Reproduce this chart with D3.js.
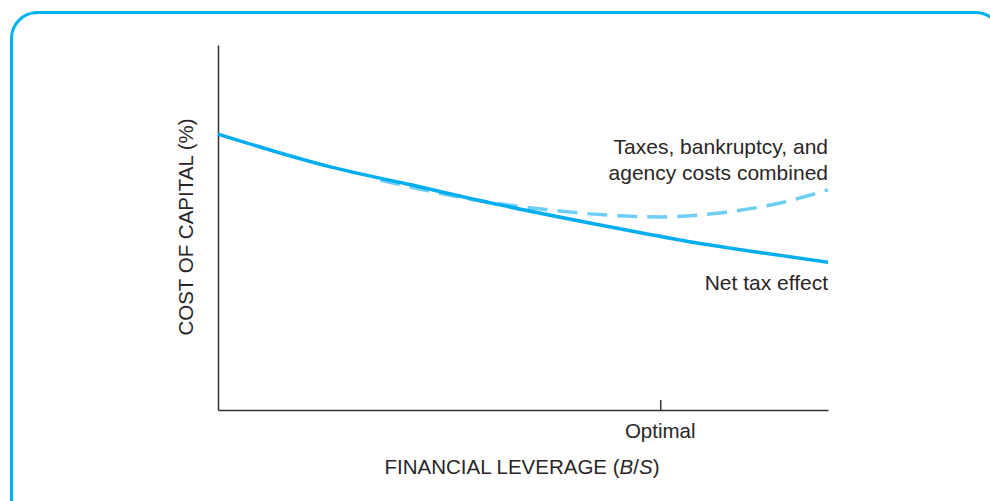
<!DOCTYPE html>
<html>
<head>
<meta charset="utf-8">
<script src="https://cdn.jsdelivr.net/npm/d3@7/dist/d3.min.js"></script>
<style>
  html, body { margin: 0; padding: 0; background: #fff; }
  svg { display: block; }
  text { font-family: "Liberation Sans", Arial, sans-serif; fill: #2a2627; }
</style>
</head>
<body>
<svg id="chart" width="990" height="501"></svg>
<script>
// Financial leverage (B/S) on a 0–100 scale, cost of capital in relative units
const netTaxX = [0, 18.4, 31.0, 46.2, 62.6, 75.7, 100];
const netTaxY = [75.6, 66.6, 61.9, 56.2, 50.7, 46.6, 40.5];

const combinedX = [26.6, 43.0, 54.4, 65.9, 72.5, 82.3, 92.1, 100];
const combinedY = [63.0, 57.3, 54.8, 53.2, 52.9, 54.0, 56.7, 60.3];

const optimalTick = [72.5];
const optimalLabel = ["Optimal"];

const svg = d3.select("#chart");

// rounded frame
svg.append("rect")
  .attr("x", 11.5).attr("y", 12.5)
  .attr("width", 990).attr("height", 520)
  .attr("rx", 26).attr("ry", 26)
  .attr("fill", "none")
  .attr("stroke", "#00b3f0")
  .attr("stroke-width", 3);

const x = d3.scaleLinear().domain([0, 100]).range([218, 828]);
const y = d3.scaleLinear().domain([0, 100]).range([410, 45]);

// y axis line (no ticks)
svg.append("g")
  .attr("transform", `translate(${x(0)},0)`)
  .call(d3.axisLeft(y).tickValues([]).tickSizeOuter(0))
  .call(g => g.select(".domain").attr("stroke", "#333").attr("stroke-width", 1.5));

// x axis with one upward tick at the optimum
svg.append("g")
  .attr("transform", `translate(0,${y(0)})`)
  .call(d3.axisBottom(x).tickValues(optimalTick).tickSize(-10).tickSizeOuter(0).tickFormat(() => ""))
  .call(g => g.select(".domain").attr("stroke", "#333").attr("stroke-width", 1.5))
  .call(g => g.selectAll(".tick line").attr("stroke", "#333").attr("stroke-width", 1.5));

svg.selectAll(".optimal-label")
  .data(optimalTick)
  .join("text")
  .attr("class", "optimal-label")
  .attr("x", d => x(d))
  .attr("y", 438)
  .attr("text-anchor", "middle")
  .attr("font-size", 20.5)
  .text((d, i) => optimalLabel[i]);

const line = d3.line()
  .x(d => x(d[0]))
  .y(d => y(d[1]))
  .curve(d3.curveMonotoneX);

// taxes, bankruptcy and agency costs combined
svg.append("path")
  .datum(d3.zip(combinedX, combinedY))
  .attr("d", line)
  .attr("fill", "none")
  .attr("stroke", "#6dcff6")
  .attr("stroke-width", 3.5)
  .attr("stroke-dasharray", "20 10");

// net tax effect
svg.append("path")
  .datum(d3.zip(netTaxX, netTaxY))
  .attr("d", line)
  .attr("fill", "none")
  .attr("stroke", "#00aeef")
  .attr("stroke-width", 3.5);

// curve labels
const combinedLabel = svg.append("text")
  .attr("text-anchor", "end")
  .attr("font-size", 21);
combinedLabel.append("tspan").attr("x", 828).attr("y", 154).text("Taxes, bankruptcy, and");
combinedLabel.append("tspan").attr("x", 828).attr("y", 180).text("agency costs combined");

svg.append("text")
  .attr("x", 828).attr("y", 290)
  .attr("text-anchor", "end")
  .attr("font-size", 21)
  .text("Net tax effect");

// axis titles
const xTitle = svg.append("text")
  .attr("x", 522).attr("y", 474)
  .attr("text-anchor", "middle")
  .attr("font-size", 20.5);
xTitle.append("tspan").text("FINANCIAL LEVERAGE (");
xTitle.append("tspan").attr("font-style", "italic").text("B");
xTitle.append("tspan").text("/");
xTitle.append("tspan").attr("font-style", "italic").text("S");
xTitle.append("tspan").text(")");

svg.append("text")
  .attr("transform", "translate(193,227) rotate(-90)")
  .attr("text-anchor", "middle")
  .attr("font-size", 20.5)
  .text("COST OF CAPITAL (%)");
</script>
</body>
</html>
